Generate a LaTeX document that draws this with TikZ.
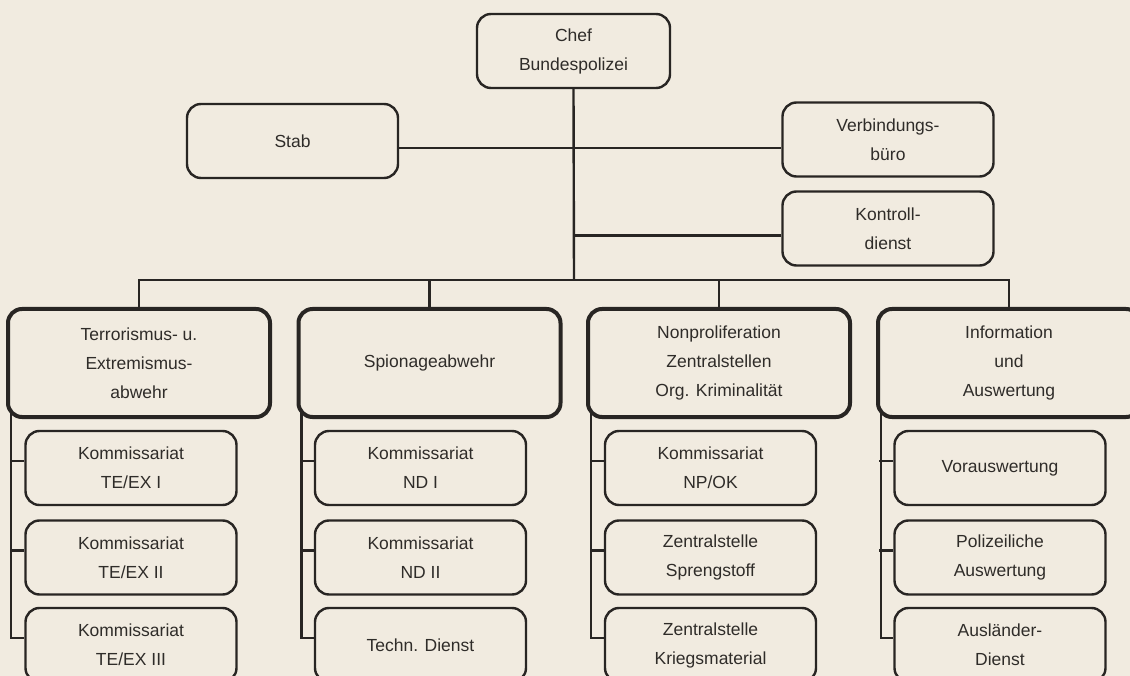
\documentclass[tikz,border=0pt]{standalone}
\usepackage{fontspec}
\setmainfont{Liberation Sans}
\usepackage{tikz}
\usetikzlibrary{calc}
\usepackage{xcolor}
\definecolor{paper}{HTML}{F1EBE0}
\definecolor{ink}{HTML}{282523}
\definecolor{inktext}{HTML}{2F2C29}
\tikzset{unitbox/.style={draw=ink,line width=2.4pt,rounded corners=14pt,fill=paper,
  text=inktext,align=center,minimum width=211pt,minimum height=74pt,inner sep=0pt,
  font=\fontsize{17.5}{29}\selectfont}}
\tikzset{deptbox/.style={unitbox,line width=4pt,minimum width=262pt,minimum height=108pt}}
\tikzset{link/.style={draw=ink,line width=2.4pt}}

\begin{document}
\begin{tikzpicture}[x=1pt,y=1pt]
\useasboundingbox (0,0) rectangle (1130,-676);
\fill[paper] (0,0) rectangle (1130,-676);
% top level
\node (chef) [unitbox,minimum width=193pt] at (573.5,-51) {Chef\\Bundespolizei};
\node (stab) [unitbox] at (292.5,-141) {Stab};
\node (vb) [unitbox] at (888,-139.5) {Verbindungs-\\büro};
\node (kd) [unitbox] at (888,-228.5) {Kontroll-\\dienst};
\coordinate (bus) at (574,-280);
%
\node (te) [deptbox] at (139,-363) {Terrorismus- u.\\Extremismus-\\abwehr};
\node (nd) [deptbox] at (429.5,-363) {Spionageabwehr};
\node (np) [deptbox] at (719,-363) {Nonproliferation\\Zentralstellen\\Org. Kriminalität};
\node (ia) [deptbox] at (1009,-363) {Information\\und\\Auswertung};
% sub units
\node (te1) [unitbox] at (131,-468) {Kommissariat\\TE/EX I};
\node (te2) [unitbox] at (131,-557.5) {Kommissariat\\TE/EX II};
\node (te3) [unitbox] at (131,-645) {Kommissariat\\TE/EX III};
\node (nd1) [unitbox] at (420.5,-468) {Kommissariat\\ND I};
\node (nd2) [unitbox] at (420.5,-557.5) {Kommissariat\\ND II};
\node (nd3) [unitbox] at (420.5,-645) {Techn. Dienst};
\node (np1) [unitbox] at (710.5,-468) {Kommissariat\\NP/OK};
\node (np2) [unitbox] at (710.5,-557.5) {Zentralstelle\\Sprengstoff};
\node (np3) [unitbox] at (710.5,-645) {Zentralstelle\\Kriegsmaterial};
\node (ia1) [unitbox] at (1000,-468) {Vorauswertung};
\node (ia2) [unitbox] at (1000,-557.5) {Polizeiliche\\Auswertung};
\node (ia3) [unitbox] at (1000,-645) {Ausländer-\\Dienst};
%
\draw[link] (chef.south) -- (bus);
\draw[link] ([yshift=-7pt]stab.east) -- ([yshift=-7pt]stab.east -| vb.west);
\draw[link] ([yshift=-7pt]kd.west) -- ([yshift=-7pt]kd.west -| bus);
\draw[link] (te.north) |- (bus) -| (ia.north);
\draw[link] (nd.north) -- (nd.north |- bus);
\draw[link] (np.north) -- (np.north |- bus);
%
\draw[link] ($(te.south west)+(5,6)$) |- ([yshift=7pt]te3.west);
\draw[link] ([yshift=7pt]te1.west) -- ++(-14,0);
\draw[link] ([yshift=7pt]te2.west) -- ++(-14,0);
\draw[link] ($(nd.south west)+(5,6)$) |- ([yshift=7pt]nd3.west);
\draw[link] ([yshift=7pt]nd1.west) -- ++(-14,0);
\draw[link] ([yshift=7pt]nd2.west) -- ++(-14,0);
\draw[link] ($(np.south west)+(5,6)$) |- ([yshift=7pt]np3.west);
\draw[link] ([yshift=7pt]np1.west) -- ++(-14,0);
\draw[link] ([yshift=7pt]np2.west) -- ++(-14,0);
\draw[link] ($(ia.south west)+(5,6)$) |- ([yshift=7pt]ia3.west);
\draw[link] ([yshift=7pt]ia1.west) -- ++(-14,0);
\draw[link] ([yshift=7pt]ia2.west) -- ++(-14,0);
\end{tikzpicture}
\end{document}
